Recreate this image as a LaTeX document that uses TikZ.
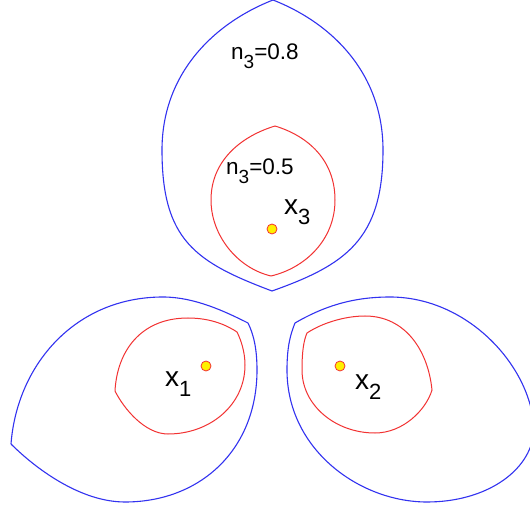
\documentclass[tikz,border=0pt]{standalone}
\usepackage{fontspec}
\setmainfont{Liberation Sans}
\definecolor{lineblue}{RGB}{50,50,240}
\definecolor{linered}{RGB}{242,50,50}
\definecolor{dotfill}{RGB}{255,240,0}
\newcommand{\lowsub}[2]{{\fontsize{#2}{#2}\selectfont\raisebox{-0.45em}{#1}}}
\tikzset{
  bluecurve/.style={draw=lineblue, line width=1.1pt},
  redcurve/.style={draw=linered, line width=1.0pt},
  sitedot/.style={circle, fill=dotfill, draw=linered, line width=0.8pt, minimum size=10pt, inner sep=0pt},
  smalllabel/.style={font=\fontsize{22.5}{22.5}\selectfont, inner sep=0pt, anchor=base west},
  biglabel/.style={font=\fontsize{28}{28}\selectfont, inner sep=0pt, anchor=base west}
}
\begin{document}
\begin{tikzpicture}[x=1pt,y=-1pt]
\useasboundingbox[fill=white] (0,0) rectangle (530,510);
\clip (0,0) rectangle (530,510);
% top region (x3), blue n=0.8
\draw[bluecurve] (273,0) .. controls (212,24) and (162,75) .. (162,150)
                 .. controls (162,240) and (195,262) .. (272,291);
\draw[bluecurve] (273,0) .. controls (334,24) and (383,75) .. (383,150)
                 .. controls (383,240) and (345,265) .. (272,291);
% top red n=0.5
\draw[redcurve] (275,126) .. controls (242,136) and (211,160) .. (211,200)
                .. controls (211,235) and (237,268) .. (271,276);
\draw[redcurve] (275,126) .. controls (308,136) and (335,160) .. (335,200)
                .. controls (335,240) and (305,268) .. (271,276);
% bottom left (x1)
\draw[bluecurve] (11,444) .. controls (17,365) and (75,297) .. (163,297)
                 .. controls (195,297) and (226,312) .. (248,323)
                 .. controls (254,335) and (257,350) .. (257,370)
                 .. controls (257,450) and (200,502) .. (125,502)
                 .. controls (80,502) and (35,468) .. (11,444);
\draw[redcurve] (115,391) .. controls (117,352) and (140,318) .. (188,318)
                .. controls (212,318) and (228,326) .. (237,332)
                .. controls (241,340) and (245,352) .. (245,365)
                .. controls (245,405) and (210,434) .. (168,434)
                .. controls (145,434) and (124,409) .. (115,391);
% bottom right (x2)
\draw[bluecurve] (295,323) .. controls (326,305) and (355,297) .. (390,297)
                 .. controls (470,297) and (534,370) .. (534,432)
                 .. controls (530,472) and (485,502) .. (427,502)
                 .. controls (360,502) and (287,450) .. (287,370)
                 .. controls (287,345) and (291,333) .. (295,323);
\draw[redcurve] (307,333) .. controls (322,323) and (345,316) .. (365,316)
                .. controls (405,316) and (428,350) .. (432,390)
                .. controls (426,410) and (403,433) .. (375,433)
                .. controls (335,433) and (302,405) .. (302,370)
                .. controls (302,350) and (304,340) .. (307,333);
% sites
\node[sitedot] (s3) at (272,229) {};
\node[sitedot] (s1) at (206,366) {};
\node[sitedot] (s2) at (340,366) {};
% labels
\node[smalllabel] (l8) at (231,60) {n\lowsub{3}{19}=0.8};
\node[smalllabel] (l5) at (226,175) {n\lowsub{3}{19}=0.5};
\node[biglabel] (lx3) at (284,215) {x\lowsub{3}{22}};
\node[biglabel] (lx1) at (165,387) {x\lowsub{1}{22}};
\node[biglabel] (lx2) at (355,390) {x\lowsub{2}{22}};
\end{tikzpicture}
\end{document}
